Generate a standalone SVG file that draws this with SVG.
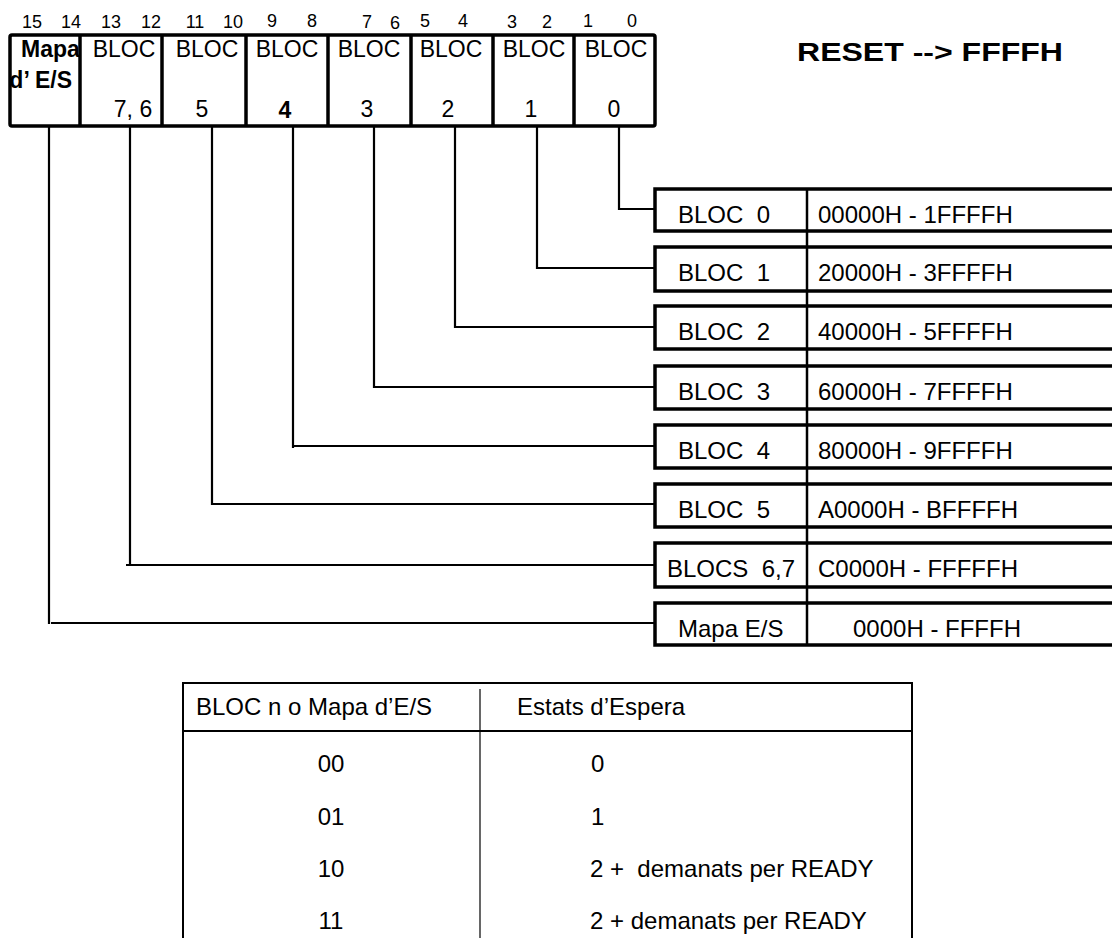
<svg xmlns="http://www.w3.org/2000/svg" width="1112" height="938" viewBox="0 0 1112 938">
<style>
.t{font-family:"Liberation Sans",Arial,sans-serif;fill:#000}
.bit{font-size:18px}
.reg{font-size:23px}
.b{font-weight:bold}
.box{fill:#fff;stroke:#000;stroke-width:3.5}
.con{fill:none;stroke:#000;stroke-width:2.2}
.rb{font-size:24px}
.tb{font-size:24px}
.thin{stroke:#000;stroke-width:1.2}
.tbl{fill:none;stroke:#000;stroke-width:2}
.dv{stroke:#000;stroke-width:2.5}
</style>
<defs>
<clipPath id="regclip"><rect x="11" y="35" width="650" height="92"/></clipPath>
</defs>

<g id="bits" class="t bit" text-anchor="middle">
<text x="32" y="28">15</text><text x="71" y="28">14</text>
<text x="111" y="28">13</text><text x="151" y="28">12</text>
<text x="195" y="28">11</text><text x="233" y="28">10</text>
<text x="272" y="27">9</text><text x="312" y="27">8</text>
<text x="367" y="28">7</text><text x="395" y="29">6</text>
<text x="425" y="27">5</text><text x="463" y="27">4</text>
<text x="512" y="28">3</text><text x="547" y="28">2</text>
<text x="588" y="27">1</text><text x="632" y="27">0</text>
</g>

<g id="register">
<rect x="10" y="35" width="645" height="91" rx="2" fill="#fff" stroke="#000" stroke-width="3.5"/>
<g stroke="#000" stroke-width="3.5">
<line x1="80" y1="35" x2="80" y2="126"/>
<line x1="162" y1="35" x2="162" y2="126"/>
<line x1="246" y1="35" x2="246" y2="126"/>
<line x1="328" y1="35" x2="328" y2="126"/>
<line x1="411" y1="35" x2="411" y2="126"/>
<line x1="493" y1="35" x2="493" y2="126"/>
<line x1="574" y1="35" x2="574" y2="126"/>
</g>
<g class="t reg">
<text class="b" x="21" y="57">Mapa</text>
<text class="b" x="72" y="88" text-anchor="end" clip-path="url(#regclip)">d’ E/S</text>
<g text-anchor="middle">
<text x="124" y="57">BLOC</text><text x="207" y="57">BLOC</text>
<text x="287" y="57">BLOC</text><text x="369" y="57">BLOC</text>
<text x="451" y="57">BLOC</text><text x="534" y="57">BLOC</text>
<text x="616" y="57">BLOC</text>
<text x="133" y="117">7, 6</text><text x="202" y="117">5</text>
<text class="b" x="285" y="118">4</text><text x="367" y="117">3</text>
<text x="448" y="117">2</text><text x="531" y="117">1</text>
<text x="614" y="117">0</text>
</g>
</g>
</g>

<text id="reset" class="t b" x="797" y="61" font-size="25" textLength="266" lengthAdjust="spacingAndGlyphs">RESET --&gt; FFFFH</text>

<g id="connectors" class="con">
<path d="M619 127 V209 H655"/>
<path d="M537 127 V268 H655"/>
<path d="M455 127 V327 H655"/>
<path d="M374 127 V387 H655"/>
<path d="M293 127 V448 M293 446 H655"/>
<path d="M212 127 V504 H655"/>
<path d="M130 127 V566 M126 565 H655"/>
<path d="M49 127 V624 M51 623 H655"/>
</g>

<line id="addr-divider" class="dv" x1="807" y1="189" x2="807" y2="646"/>

<g id="bloc0"><rect class="box" x="655" y="189" width="470" height="42"/><line class="dv" x1="807" y1="189" x2="807" y2="231"/>
<text class="t rb" x="678" y="223" xml:space="preserve">BLOC  0</text><text class="t rb" x="818" y="223">00000H - 1FFFFH</text></g>
<g id="bloc1"><rect class="box" x="655" y="247" width="470" height="44"/><line class="dv" x1="807" y1="247" x2="807" y2="291"/>
<text class="t rb" x="678" y="281" xml:space="preserve">BLOC  1</text><text class="t rb" x="818" y="281">20000H - 3FFFFH</text></g>
<g id="bloc2"><rect class="box" x="655" y="306" width="470" height="43"/><line class="dv" x1="807" y1="306" x2="807" y2="349"/>
<text class="t rb" x="678" y="340" xml:space="preserve">BLOC  2</text><text class="t rb" x="818" y="340">40000H - 5FFFFH</text></g>
<g id="bloc3"><rect class="box" x="655" y="366" width="470" height="43"/><line class="dv" x1="807" y1="366" x2="807" y2="409"/>
<text class="t rb" x="678" y="400" xml:space="preserve">BLOC  3</text><text class="t rb" x="818" y="400">60000H - 7FFFFH</text></g>
<g id="bloc4"><rect class="box" x="655" y="425" width="470" height="43"/><line class="dv" x1="807" y1="425" x2="807" y2="468"/>
<text class="t rb" x="678" y="459" xml:space="preserve">BLOC  4</text><text class="t rb" x="818" y="459">80000H - 9FFFFH</text></g>
<g id="bloc5"><rect class="box" x="655" y="484" width="470" height="43"/><line class="dv" x1="807" y1="484" x2="807" y2="527"/>
<text class="t rb" x="678" y="518" xml:space="preserve">BLOC  5</text><text class="t rb" x="818" y="518">A0000H - BFFFFH</text></g>
<g id="blocs67"><rect class="box" x="655" y="543" width="470" height="44"/><line class="dv" x1="807" y1="543" x2="807" y2="587"/>
<text class="t rb" x="667" y="577" xml:space="preserve">BLOCS  6,7</text><text class="t rb" x="818" y="577">C0000H - FFFFFH</text></g>
<g id="mapaES"><rect class="box" x="655" y="603" width="470" height="42"/><line class="dv" x1="807" y1="603" x2="807" y2="645"/>
<text class="t rb" x="678" y="637">Mapa E/S</text><text class="t rb" x="853" y="637">0000H - FFFFH</text></g>

<g id="waitTable">
<path class="tbl" d="M183 940 V683 H912 V940"/>
<line class="tbl" x1="183" y1="731" x2="912" y2="731"/>
<line class="thin" x1="480" y1="689" x2="480" y2="940"/>
<g class="t tb">
<text x="196" y="715">BLOC n o Mapa d’E/S</text>
<text x="517" y="715">Estats d’Espera</text>
<g text-anchor="middle">
<text x="331" y="772">00</text><text x="331" y="825">01</text>
<text x="331" y="877">10</text><text x="331" y="929">11</text>
</g>
<text x="591" y="772">0</text>
<text x="591" y="825">1</text>
<text x="590" y="877" xml:space="preserve">2 +  demanats per READY</text>
<text x="590" y="929">2 + demanats per READY</text>
</g>
</g>
</svg>
